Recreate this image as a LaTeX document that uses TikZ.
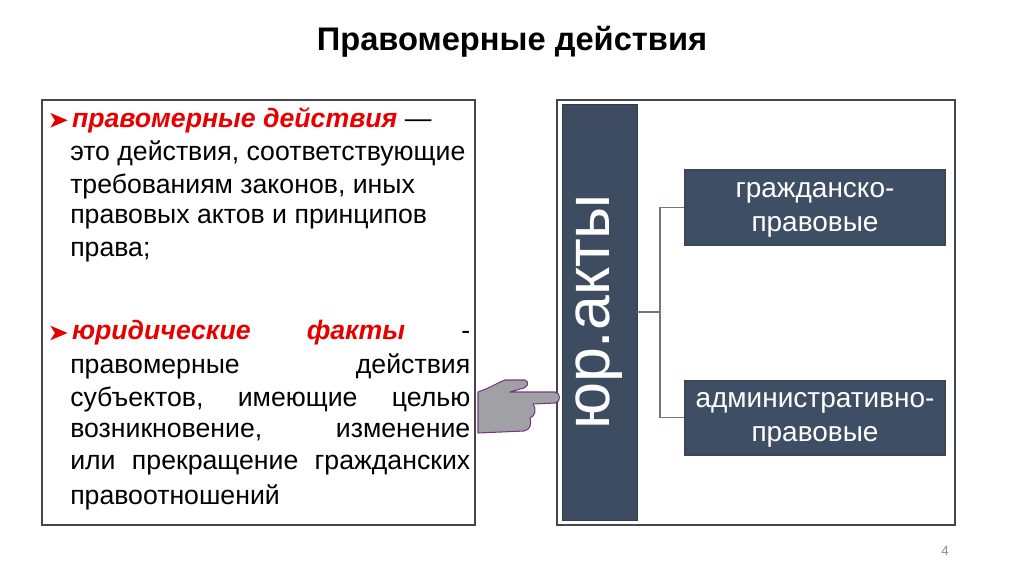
\documentclass[tikz,border=0pt]{standalone}
\usepackage{fontspec}
\setmainfont{Liberation Sans}
\newcommand{\arrbul}{\tikz[baseline=-0.35ex,x=1pt,y=1pt]\fill[red!90!black] (0,7) -- (13,1.5) -- (0,-4) -- (3.5,1.5) -- cycle;\,}
\begin{document}
\begin{tikzpicture}[x=0.75pt,y=-0.75pt,
  txt/.style={anchor=west,inner sep=0pt,font=\fontsize{20}{22}\selectfont},
  red/.style={txt,text={rgb,255:red,230;green,0;blue,0},font=\fontsize{20}{22}\selectfont\bfseries\itshape},
  sub/.style={draw={rgb,255:red,60;green,70;blue,85},line width=1pt,fill={rgb,255:red,62;green,78;blue,100},text=white,align=center,font=\fontsize{21}{26}\selectfont,minimum width=195pt,minimum height=56pt,inner sep=0pt},
  conn/.style={draw={rgb,255:red,110;green,120;blue,135},line width=1pt}]
\useasboundingbox (0,0) rectangle (1024,574);
\node (title) at (512,42) {\fontsize{24.5}{28}\selectfont\bfseries Правомерные действия};
\draw[line width=1pt,draw={rgb,255:red,70;green,70;blue,80}] (42,100) rectangle (475,525);
\draw[line width=1pt,draw={rgb,255:red,70;green,70;blue,80}] (557,100) rectangle (955,525);
\node[red] (b1) at (50,120) {\arrbul правомерные действия \textnormal{\color{black}—}};
\node[txt] (l1) at (70,153) {это действия, соответствующие};
\node[txt] (l2) at (70,186) {требованиям законов, иных};
\node[txt] (l3) at (70,219) {правовых актов и принципов};
\node[txt] (l4) at (70,252) {права;};
\node[red] (b2) at (50,333) {\hbox to 315pt{\arrbul юридические\hfill факты\hfill\textnormal{\color{black}-}}};
\node[txt] (m1) at (70,366) {\hbox to 300pt{правомерные\hfill действия}};
\node[txt] (m2) at (70,399) {\hbox to 300pt{субъектов,\hfill имеющие\hfill целью}};
\node[txt] (m3) at (70,432) {\hbox to 300pt{возникновение,\hfill изменение}};
\node[txt] (m4) at (70,465) {\hbox to 300pt{или\hfill прекращение\hfill гражданских}};
\node[txt] (m5) at (70,497) {правоотношений};
\node[draw={rgb,255:red,50;green,60;blue,75},fill={rgb,255:red,62;green,76;blue,98},minimum width=56pt,minimum height=312pt,inner sep=0pt] (bar) at (599.5,312) {};
\node[rotate=90,text=white,font=\fontsize{47}{50}\selectfont] (bt) at (599.5,312) {юр.акты};
\node[sub] (s1) at (815,207.5) {};
\node[sub] (s2) at (815,417.5) {};
\node[text=white,align=center,font=\fontsize{21}{26}\selectfont] (t1) at (815,210) {гражданско-\\правовые};
\node[text=white,align=center,font=\fontsize{21}{26}\selectfont] (t2) at (815,420) {административно-\\правовые};
\coordinate (j) at (660,312);
\draw[conn] (bar.east |- j) -- (j);
\draw[conn] (j) |- (s1.west);
\draw[conn] (j) |- (s2.west);
\draw[fill={rgb,255:red,160;green,160;blue,165},draw={rgb,255:red,110;green,60;blue,130},line width=0.8pt,line join=round]
 (478,392) .. controls (490,388) and (497,383) .. (505,380) -- (525,380) .. controls (530,382) and (528,388) .. (520,389) -- (510,392)
 -- (555,392) .. controls (561,393) and (561,402) .. (555,403) -- (533,404) .. controls (537,410) and (535,416) .. (530,418)
 .. controls (532,424) and (530,430) .. (524,431) -- (478,433) -- cycle;
\node[text={rgb,255:red,140;green,140;blue,140},font=\fontsize{10}{11}\selectfont] (pn) at (945,551) {4};
\end{tikzpicture}
\end{document}
